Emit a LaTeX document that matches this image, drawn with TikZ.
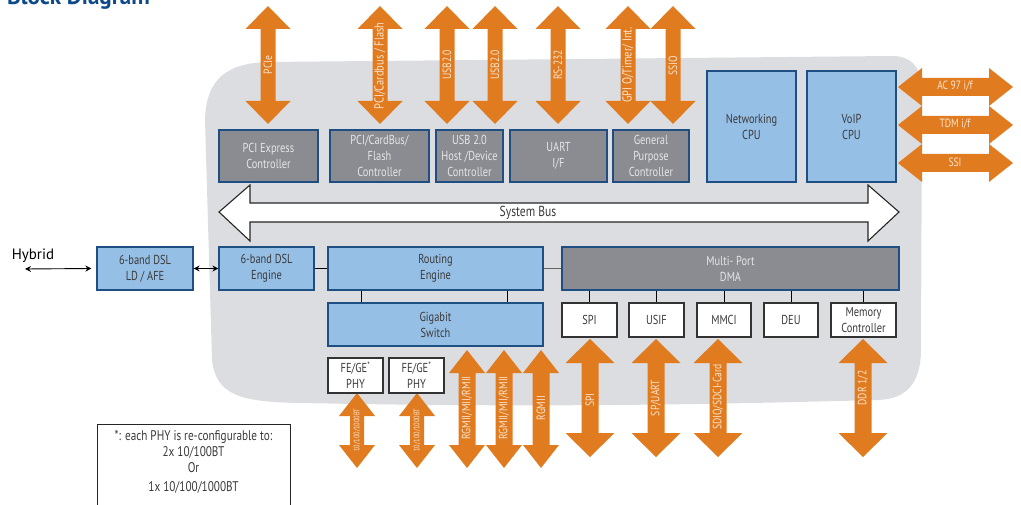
\documentclass[tikz,border=0pt]{standalone}
\usepackage{fontspec}
\setmainfont{PT Sans}[FakeStretch=0.8]
\newfontfamily\titlefont{PT Sans}
\usetikzlibrary{arrows.meta}
\definecolor{bgray}{HTML}{DCDDE0}
\definecolor{boxgray}{HTML}{8A8C92}
\definecolor{boxblue}{HTML}{96BFE5}
\definecolor{bord}{HTML}{1F4E82}
\definecolor{org}{HTML}{E07B20}
\definecolor{ltext}{HTML}{E6E6E6}
\definecolor{dtext}{HTML}{3A3A3A}
\definecolor{otext}{HTML}{FBE6D2}
\definecolor{ttl}{HTML}{0E4A8A}
\newcommand\VArrow[6]{\fill[org] (#1,#2) -- ({#1+#4},{#2+#6}) -- ({#1+#5},{#2+#6}) -- ({#1+#5},{#3-#6}) -- ({#1+#4},{#3-#6}) -- (#1,#3) -- ({#1-#4},{#3-#6}) -- ({#1-#5},{#3-#6}) -- ({#1-#5},{#2+#6}) -- ({#1-#4},{#2+#6}) -- cycle;}
\newcommand\HArrow[6]{\fill[org] (#2,#1) -- ({#2+#6},{#1-#4}) -- ({#2+#6},{#1-#5}) -- ({#3-#6},{#1-#5}) -- ({#3-#6},{#1-#4}) -- (#3,#1) -- ({#3-#6},{#1+#4}) -- ({#3-#6},{#1+#5}) -- ({#2+#6},{#1+#5}) -- ({#2+#6},{#1+#4}) -- cycle;}
\tikzset{
  basebox/.style={line width=1.2pt, align=center, inner sep=0pt, font=\fontsize{13}{16}\selectfont},
  gbox/.style={basebox, draw=bord, fill=boxgray, text=ltext},
  bbox/.style={basebox, draw=bord, fill=boxblue, text=dtext},
  wbox/.style={basebox, draw=black!80, fill=white, text=dtext},
  alabel/.style={text=otext, inner sep=0pt, font=\fontsize{12}{12}\selectfont},
  vlabel/.style={alabel, rotate=90},
  conn/.style={line width=0.9pt, black},
  tip/.style={{Stealth[length=6pt,width=6pt]}-{Stealth[length=6pt,width=6pt]}}
}
\begin{document}
\begin{tikzpicture}[x=1pt, y=-1pt]
\useasboundingbox (0,0) rectangle (1021,505);
% title (partly cut off at top, as in the reference)
\node[anchor=base west, text=ttl, inner sep=0pt, font=\titlefont\bfseries\fontsize{23}{23}\selectfont] (title) at (7,5) {Block Diagram};
% chip background
\fill[bgray] (205,120) .. controls (206,78) and (228,63) .. (268,62) -- (892,56) .. controls (912,56) and (922,68) .. (922,92) -- (921,352) .. controls (920,384) and (906,399) .. (878,400) .. controls (720,404) and (560,408) .. (300,403) .. controls (240,402) and (216,395) .. (212,360) -- cycle;
% top arrows
\VArrow{268}{6}{124}{22.5}{7.5}{23}
\VArrow{380}{6}{124}{22.5}{7.5}{23}
\VArrow{447}{6}{124}{22.5}{7.5}{23}
\VArrow{495}{6}{124}{22.5}{7.5}{23}
\VArrow{558}{6}{124}{22.5}{7.5}{23}
\VArrow{628}{6}{124}{22.5}{7.5}{23}
\VArrow{673}{6}{124}{22.5}{7.5}{23}
% right arrows
\HArrow{87}{898}{1013}{19}{9}{24}
\HArrow{125}{898}{1013}{19}{9}{24}
\HArrow{163}{898}{1013}{19}{9}{24}
% bottom arrows
\VArrow{590}{339}{457}{24.5}{8.5}{24}
\VArrow{656}{339}{457}{24.5}{8.5}{24}
\VArrow{718}{339}{457}{24.5}{8.5}{24}
\VArrow{863}{339}{457}{24.5}{8.5}{24}
\VArrow{467}{350}{468}{18}{8.5}{23}
\VArrow{504}{350}{468}{18}{8.5}{23}
\VArrow{541}{350}{468}{18}{8.5}{23}
\VArrow{357}{393}{468}{18}{7}{23}
\VArrow{417}{393}{468}{18}{7}{23}
% system bus
\draw[fill=white, draw=black!85, line width=1.1pt] (219,212) -- (250,185) -- (250,203) -- (868,203) -- (868,185) -- (899,212) -- (868,241) -- (868,222) -- (250,222) -- (250,241) -- cycle;
\node[text=dtext, inner sep=0pt, font=\fontsize{14.5}{14.5}\selectfont] (sysbus) at (528,213) {System Bus};
% top boxes
\node[gbox, minimum width=99pt, minimum height=52pt] (pciex) at (268.5,156) {PCI Express\\Controller};
\node[gbox, minimum width=99pt, minimum height=52pt] (pcic) at (379.5,156) {PCI/CardBus/\\Flash\\Controller};
\node[gbox, minimum width=67pt, minimum height=52pt] (usbc) at (469.5,156) {USB 2.0\\Host /Device\\Controller};
\node[gbox, minimum width=97pt, minimum height=52pt] (uart) at (558.5,156) {UART\\I/F};
\node[gbox, minimum width=76pt, minimum height=52pt] (gpc) at (651,156) {General\\Purpose\\Controller};
\node[bbox, minimum width=89pt, minimum height=111pt] (netcpu) at (751.5,126.5) {Networking\\CPU};
\node[bbox, minimum width=89pt, minimum height=111pt] (voip) at (851.5,126.5) {VoIP\\CPU};
% middle row
\node[bbox, minimum width=96pt, minimum height=43pt] (ldafe) at (145,268.5) {6-band DSL\\LD / AFE};
\node[bbox, minimum width=95pt, minimum height=43pt] (eng) at (266.5,268.5) {6-band DSL\\Engine};
\node[bbox, minimum width=215pt, minimum height=43pt] (route) at (435.5,268.5) {Routing\\Engine};
\node[bbox, minimum width=215pt, minimum height=43pt] (gig) at (435.5,324.5) {Gigabit\\Switch};
\node[gbox, minimum width=337pt, minimum height=43pt] (dma) at (730.5,268.5) {Multi- Port\\DMA};
% DMA peripherals
\node[wbox, minimum width=55pt, minimum height=34pt] (spi) at (589.5,320) {SPI};
\node[wbox, minimum width=55pt, minimum height=34pt] (usif) at (656.5,320) {USIF};
\node[wbox, minimum width=54pt, minimum height=34pt] (mmci) at (724,320) {MMCI};
\node[wbox, minimum width=54pt, minimum height=34pt] (deu) at (791,320) {DEU};
\node[wbox, minimum width=65pt, minimum height=34pt] (memc) at (863.5,320) {Memory\\Controller};
% PHYs
\node[wbox, minimum width=55pt, minimum height=35pt] (phy1) at (355.5,375.5) {FE/GE\textsuperscript{*}\\PHY};
\node[wbox, minimum width=55pt, minimum height=35pt] (phy2) at (416.5,375.5) {FE/GE\textsuperscript{*}\\PHY};
% connectors
\draw[conn] (eng.east) -- (route.west);
\draw[conn, black!60] (route.east) -- (dma.west);
\draw[conn] ([xshift=34pt]route.south west) -- ([xshift=34pt]gig.north west);
\draw[conn] ([xshift=-36pt]route.south east) -- ([xshift=-36pt]gig.north east);
\foreach \n in {spi,usif,mmci,deu,memc} \draw[conn] (\n.north) -- (\n.north |- dma.south);
% hybrid
\node[inner sep=0pt, font=\titlefont\fontsize{15}{15}\selectfont] (hyb) at (33,256) {Hybrid};
\coordinate (hybL) at (25,269);
\draw[conn, tip] (hybL) -- ([xshift=-5pt]ldafe.west);
\draw[conn, tip] (ldafe.east) -- (eng.west);
% arrow labels
\node[vlabel] (lpcie) at (268,65) {PCIe};
\node[vlabel, font=\fontsize{13}{13}\selectfont] (lpcic) at (380,66) {PCI/Cardbus / Flash};
\node[vlabel] (lusb1) at (447,65) {USB2.0};
\node[vlabel] (lusb2) at (495,65) {USB2.0};
\node[vlabel] (lrs) at (558,65) {RS-232};
\node[vlabel, font=\fontsize{13}{13}\selectfont] (lgpio) at (628,65) {GPI O/Timer/ Int.};
\node[vlabel] (lssio) at (673,66) {SSIO};
\node[alabel] (lac) at (955,86) {AC 97 i/f};
\node[alabel] (ltdm) at (955,124) {TDM i/f};
\node[alabel] (lssi) at (955,162) {SSI};
\node[vlabel] (lspi) at (590,400) {SPI};
\node[vlabel] (luart) at (656,398) {SP/UART};
\node[vlabel] (lsdio) at (718,397) {SDIO/SDCI-Card};
\node[vlabel] (lddr) at (863,388) {DDR 1/2};
\node[vlabel] (lrg1) at (467,408) {RGMII/MII/RMII};
\node[vlabel] (lrg2) at (504,408) {RGMII/MII/RMII};
\node[vlabel] (lrg3) at (541,408) {RGMII};
\node[vlabel, font=\fontsize{8}{8}\selectfont] (lphy1) at (357,430) {10/100/1000BT};
\node[vlabel, font=\fontsize{8}{8}\selectfont] (lphy2) at (417,430) {10/100/1000BT};
% note
\node[draw=black!85, line width=1pt, minimum width=193pt, minimum height=100pt, anchor=north, inner sep=0pt] (notebox) at (193.5,424) {};
\node[text=dtext, align=center, anchor=north, inner sep=0pt, font=\fontsize{14}{16}\selectfont] (notetxt) at (193.5,430.5) {*: each PHY is re-configurable to:\\2x 10/100BT\\Or\\[3pt]1x 10/100/1000BT};
\end{tikzpicture}
\end{document}
